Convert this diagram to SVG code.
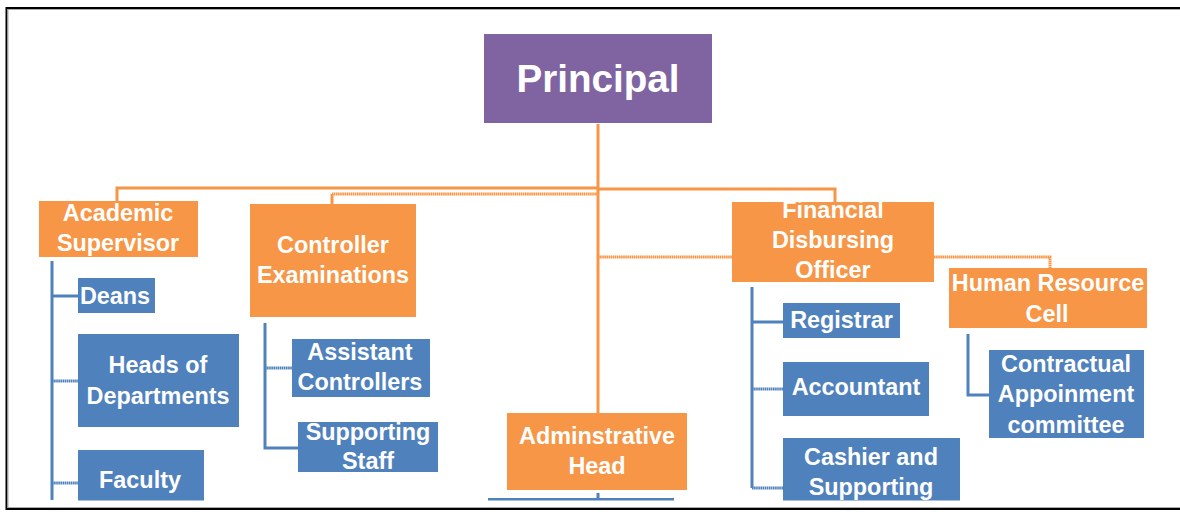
<svg xmlns="http://www.w3.org/2000/svg" width="1180" height="512" viewBox="0 0 1180 512">
<style>
.o{fill:#F79646}
.b{fill:#4F81BD}
.p{fill:#8064A2}
text{font-family:"Liberation Sans",Arial,sans-serif;font-weight:bold;fill:#fff;text-anchor:middle;font-size:23.4px}
.oc{stroke:#F79646;stroke-width:3;fill:none}
.bc{stroke:#4F81BD;stroke-width:3;fill:none}
.d{stroke-dasharray:1.6 0.5}
</style>
<defs>
<clipPath id="clip"><rect x="0" y="0" width="1180" height="500.5"/></clipPath>
</defs>
<rect x="0" y="0" width="1180" height="512" fill="#fff"/>
<g clip-path="url(#clip)">
<g id="connectors">
<path class="oc" d="M598,124 V413"/>
<path class="oc" d="M598,188 H117 V201"/>
<path class="oc d" d="M598,194 H332"/>
<path class="oc" d="M332,194 V204"/>
<path class="oc" d="M598,189 H835 V202"/>
<path class="oc d" d="M598,257 H1050 V268"/>
<path class="bc" d="M52,261 V500"/>
<path class="bc" d="M52,296 H78"/>
<path class="bc d" d="M52,381 H78"/>
<path class="bc d" d="M52,483 H78"/>
<path class="bc" d="M265,323 V448 H298"/>
<path class="bc d" d="M265,368 H292"/>
<path class="bc" d="M752,287 V488"/>
<path class="bc d" d="M752,488 H783"/>
<path class="bc" d="M752,322 H783"/>
<path class="bc d" d="M752,389 H783"/>
<path class="bc" d="M968,334 V395 H989"/>
<path class="bc" d="M598,493 V499"/>
</g>
<g id="principal"><rect class="p" x="484" y="34" width="228" height="89"/><text x="598" y="92" style="font-size:38.6px">Principal</text></g>
<g id="academic-supervisor"><rect class="o" x="39" y="201" width="159" height="56"/><text x="118" y="221">Academic</text><text x="118" y="251">Supervisor</text></g>
<g id="controller-examinations"><rect class="o" x="250" y="204" width="166" height="113"/><text x="333" y="253">Controller</text><text x="333" y="283">Examinations</text></g>
<g id="deans"><rect class="b" x="78" y="278" width="77" height="35"/><text x="115" y="304">Deans</text></g>
<g id="heads-of-departments"><rect class="b" x="78" y="334" width="161" height="93"/><text x="158" y="373">Heads of</text><text x="158" y="404">Departments</text></g>
<g id="faculty"><rect class="b" x="78" y="450" width="126" height="52"/><text x="140" y="488">Faculty</text></g>
<g id="assistant-controllers"><rect class="b" x="292" y="339" width="138" height="58"/><text x="360" y="360">Assistant</text><text x="360" y="390">Controllers</text></g>
<g id="supporting-staff"><rect class="b" x="298" y="422" width="140" height="50"/><text x="368" y="440">Supporting</text><text x="368" y="469">Staff</text></g>
<g id="financial-disbursing-officer"><rect class="o" x="732" y="202" width="202" height="80"/><text x="833" y="218">Financial</text><text x="833" y="248">Disbursing</text><text x="833" y="278">Officer</text></g>
<g id="registrar"><rect class="b" x="783" y="303" width="117" height="35"/><text x="841.5" y="328">Registrar</text></g>
<g id="accountant"><rect class="b" x="783" y="362" width="146" height="54"/><text x="856" y="395">Accountant</text></g>
<g id="cashier-and-supporting"><rect class="b" x="783" y="438" width="177" height="64"/><text x="871" y="465">Cashier and</text><text x="871" y="495">Supporting</text></g>
<g id="human-resource-cell"><rect class="o" x="949" y="268" width="198" height="60"/><text x="1048" y="291">Human Resource</text><text x="1047" y="322">Cell</text></g>
<g id="contractual-appoinment-committee"><rect class="b" x="989" y="350" width="155" height="88"/><text x="1066" y="372">Contractual</text><text x="1066" y="402">Appoinment</text><text x="1066" y="433">committee</text></g>
<g id="adminstrative-head"><rect class="o" x="507" y="413" width="180" height="77"/><text x="597" y="444">Adminstrative</text><text x="597" y="474">Head</text></g>
<g id="clipped-node"><rect class="b" x="488" y="498" width="186" height="4"/></g>
</g>
<rect x="6.5" y="8" width="1180" height="501" fill="none" stroke="#000" stroke-width="2"/>
<rect x="8" y="9.5" width="1180" height="498" fill="none" stroke="#aaa" stroke-width="1"/>
</svg>
